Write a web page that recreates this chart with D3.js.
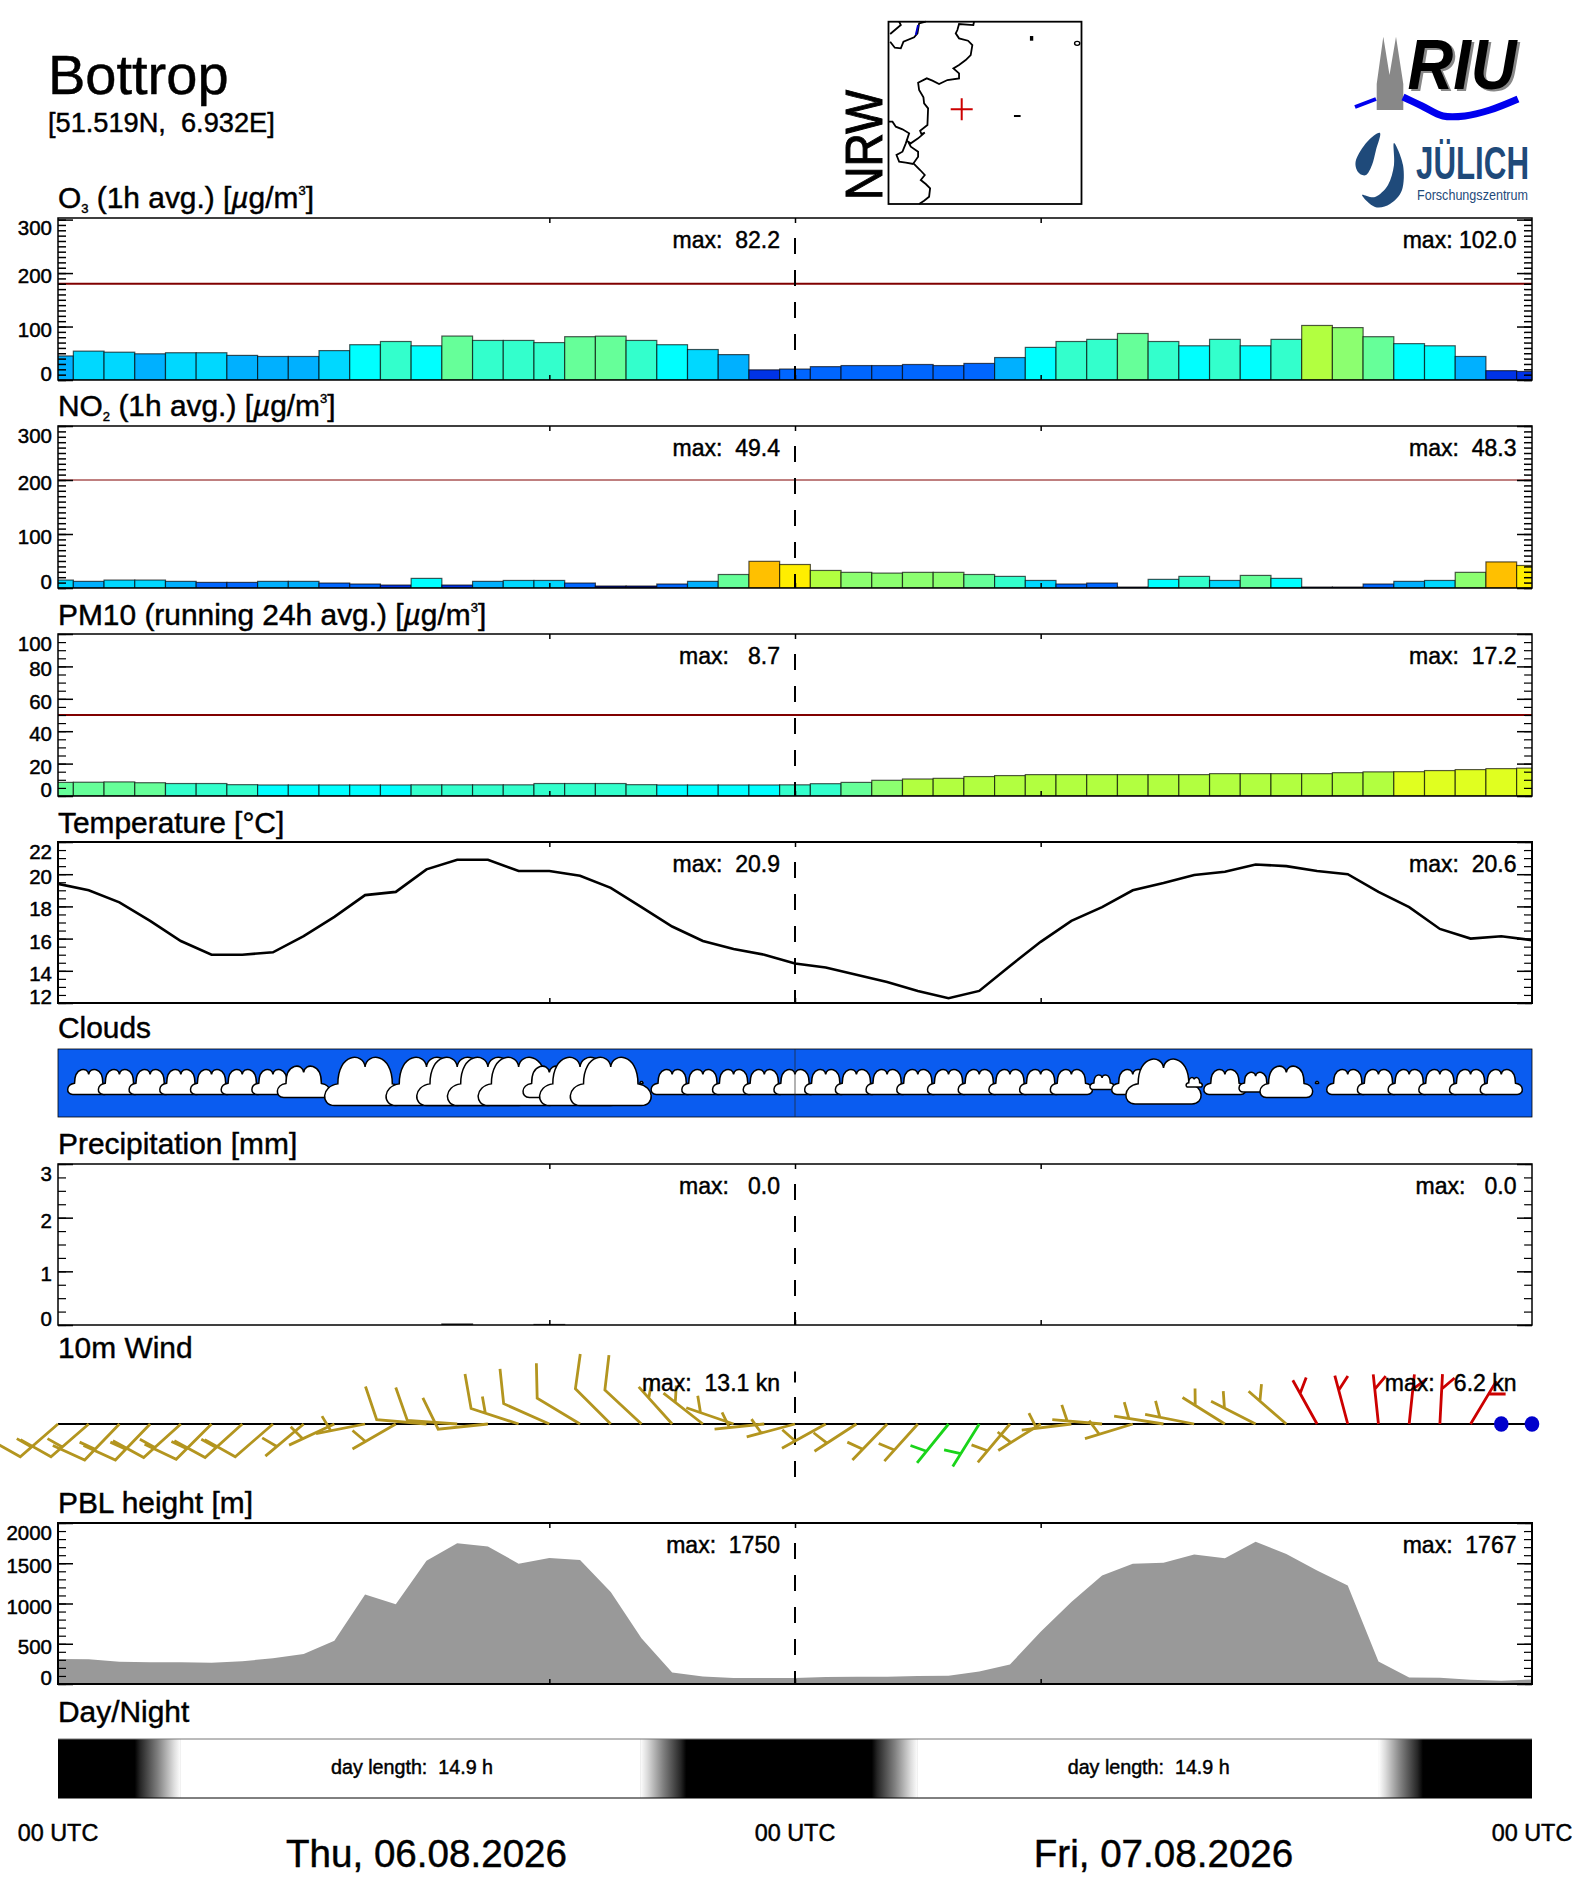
<!DOCTYPE html>
<html>
<head>
<meta charset="utf-8">
<title>Bottrop</title>
<script src="https://cdn.jsdelivr.net/npm/d3@7"></script>
<style>
  body { margin: 0; background: #fff; }
  text { font-family: "Liberation Sans", Arial, sans-serif; fill: #000; white-space: pre; }
  .tick text { display: none; }
</style>
</head>
<body>
<svg id="chart" width="1572" height="1889"></svg>
<script>
////////////////////////////////////////////////////////
//////// Hourly values, 00 UTC Thu to 00 UTC Sat
////////////////////////////////////////////////////////
var hours = d3.range(0, 49);

var o3Values = [45, 54, 52, 49, 51, 51, 46, 44, 44, 55, 66, 72, 64, 82.2, 74, 74, 70, 81, 82, 74, 66, 57, 47.5, 19, 20.5,
    25, 27, 27, 29, 27, 31, 42, 61, 72, 76, 87, 72, 64, 76, 64, 76, 102, 98, 81, 68, 64, 44, 17.5, 16];
var no2Values = [14.7, 12.3, 14.7, 14.7, 12.3, 10.4, 10.4, 12.3, 12.3, 9.2, 7.4, 5.5, 17.8, 5.5, 12.3, 14, 14, 9.2, 3.7, 3.7, 7.4, 12.3, 25, 49.4, 43.5,
    32.5, 29, 27.6, 29, 29, 25, 21.5, 14, 7.4, 9.2, 1.8, 16, 21.5, 14, 23.3, 17.8, 1.8, 1.8, 7.4, 12.3, 14, 29, 48.3, 41.7];
var pm10Values = [8.4, 8.5, 8.7, 8.2, 7.7, 7.7, 7, 6.8, 6.8, 6.8, 6.8, 6.8, 6.9, 6.9, 6.9, 6.9, 7.7, 7.7, 7.7, 7, 6.8, 6.8, 6.8, 6.8, 6.9,
    7.6, 8.4, 9.7, 10.5, 10.9, 12, 12.6, 13.2, 13.2, 13.2, 13.2, 13.2, 13.2, 13.8, 13.8, 13.8, 13.8, 14.4, 14.9, 15, 15.7, 16.3, 16.9, 17.2];
var tempValues = [19.4, 19, 18.25, 17.1, 15.85, 15, 15, 15.15, 16.15, 17.35, 18.7, 18.9, 20.3, 20.9, 20.9, 20.2, 20.2, 19.9, 19.15, 17.95, 16.75, 15.85, 15.35, 15, 14.45,
    14.2, 13.75, 13.3, 12.75, 12.3, 12.75, 14.3, 15.8, 17.1, 17.95, 19, 19.45, 19.95, 20.15, 20.6, 20.5, 20.2, 20, 18.9, 17.95, 16.6, 16, 16.15, 15.9];
var cloudCover = [0, 52, 52, 52, 52, 52, 52, 52, 65, 0, 100, 0, 100, 100, 100, 100, 65, 100, 100, 4, 52, 52, 52, 52, 52,
    52, 52, 52, 52, 52, 52, 52, 52, 52, 30, 52, 93, 20, 52, 41, 65, 4, 52, 52, 52, 52, 52, 52, 0];
var precipValues = [0, 0, 0, 0, 0, 0, 0, 0, 0, 0, 0, 0, 0, 0.02, 0, 0, 0.01, 0, 0, 0, 0, 0, 0, 0, 0,
    0, 0, 0, 0, 0, 0, 0, 0, 0, 0, 0, 0, 0, 0, 0, 0, 0, 0, 0, 0, 0, 0, 0, 0];
var windDir = [229, 229, 224, 224, 228, 225, 228, 229, 230, 245, 259, 240, 275, 274, 264, 288, 294, 301, 315, 313, 318, 308, 289, 264, 255,
    241, 237, 224, 222, 219, 212, 220, 238, 263, 275, 253, 279, 281, 302, 297, 311, 331, 345, 354, 6, 3, 31, 0, 0];
var windSpeed = [13, 13, 13, 13.1, 13, 13, 13, 11, 7, 6, 6, 7, 8, 8, 9, 12.6, 11, 11, 10, 9, 7, 7, 6, 7, 7,
    7, 6, 6, 6, 5, 5, 6, 5, 6, 5, 5, 6, 6, 6, 6, 6, 5, 5, 5, 6.2, 6, 5, 0, 0];
var pblValues = [312, 308, 275, 271, 271, 263, 283, 320, 374, 538, 1113, 990, 1532, 1750, 1709, 1495, 1565, 1540, 1142, 567, 144, 94, 74, 74, 74,
    86, 90, 90, 99, 103, 156, 242, 649, 1018, 1347, 1495, 1507, 1610, 1561, 1767, 1614, 1409, 1224, 279, 82, 78, 53, 41, 57];

// dawn start, dawn end, dusk start, dusk end (hours since start)
var twilightDay1 = [2.5, 4, 18.96, 20.46];
var twilightDay2 = [26.5, 28, 43, 44.45];

var maxLabels = {
    o3: ["82.2", "102.0"], no2: ["49.4", "48.3"], pm10: ["8.7", "17.2"], temp: ["20.9", "20.6"],
    precip: ["0.0", "0.0"], wind: ["13.1 kn", "6.2 kn"], pbl: ["1750", "1767"]
};
var dayLengths = ["14.9", "14.9"];
var dayLabels = ["Thu, 06.08.2026", "Fri, 07.08.2026"];

// Colour bands, same ramp for all the gases, band limits differ
var ramp = ["#00128c", "#0033e6", "#0066ff", "#00b0ff", "#00d8ff", "#00ffff", "#33ffcc", "#66ff99", "#8cff70", "#b2ff40", "#e0ff20", "#ffee00", "#ffc000"];
var o3Bands = [5, 20, 40, 50, 60, 70, 80, 90, 100, 120, 140, 170];
var no2Bands = [4, 7, 11, 13, 16, 21, 23, 27, 31, 38, 41, 47];
var pm10Bands = [1, 2, 3, 4, 5, 6.85, 8, 9.5, 10.4, 15, 20, 25];

// Map outlines in map units
var mapRhine = [[430, 35], [428, 45], [385, 42], [380, 60], [375, 70], [385, 85], [412, 92], [425, 105], [420, 135], [405, 150], [385, 165], [368, 175], [385, 190], [385, 205], [350, 210], [325, 222], [305, 212], [288, 205], [262, 218], [265, 240], [278, 262], [280, 280], [292, 295], [290, 345], [268, 362], [272, 372], [282, 368], [262, 385], [240, 400], [232, 395], [240, 410], [262, 425], [262, 440], [248, 460], [268, 480], [282, 495], [270, 510], [285, 522], [298, 535], [295, 560], [280, 572], [265, 582]];
var mapSouth = [[173, 335], [185, 335], [195, 350], [215, 358], [235, 370], [225, 400], [215, 425], [197, 435], [205, 455], [225, 458], [248, 462]];
var mapNorthA = [[205, 35], [210, 45], [178, 72]];
var mapNorthB = [[178, 95], [192, 113], [210, 115], [218, 95], [250, 82], [260, 70], [265, 40], [285, 35]];
var mapLake = [[262, 45], [255, 75]];
var mapSpecks = [[603, 85, 10, 14], [560, 318, 20, 6]];
var mapRing = [740, 100];
var mapSite = [393, 298];

///////////////////////////////////////////////////////////////////////////////
// Frame of the whole sheet
var svg = d3.select("#chart");
var plotLeft = 58, plotRight = 1532;

var x = d3.scaleLinear().domain([0, 48]).range([plotLeft, plotRight]);
var defs = svg.append("defs");

var addText = function (px, py, str, size, anchor) {
    return svg.append("text").attr("x", px).attr("y", py).attr("font-size", size)
        .attr("text-anchor", anchor || "start").attr("stroke", "#000").attr("stroke-width", 0.45).text(str);
};

// Panel title, parts are [text, mode] with mode sub, sup or mu
var addTitle = function (py, parts) {
    var t = svg.append("text").attr("x", 58).attr("y", py).attr("font-size", 29.9)
        .attr("stroke", "#000").attr("stroke-width", 0.45);
    parts.forEach(function (p) {
        var span = t.append("tspan").text(p[0]);
        if (p[1] === "sub") span.attr("font-size", 13).attr("dy", 5);
        if (p[1] === "sup") span.attr("font-size", 13).attr("dy", -13);
        if (p[1] === "mu") span.attr("font-style", "italic");
        if (p[2]) span.attr("dy", p[2]);
    });
};

// Outline, ticks, tick labels, the 00 UTC dashes and the two max labels
var addPanel = function (opt) {
    var y = d3.scaleLinear().domain(opt.domain).range([opt.bottom, opt.top]);
    var g = svg.append("g");

    var clipId = "clip" + opt.top;
    defs.append("clipPath").attr("id", clipId).append("rect")
        .attr("x", plotLeft).attr("y", opt.top).attr("width", plotRight - plotLeft).attr("height", opt.bottom - opt.top);

    var marks = g.append("g").attr("clip-path", "url(#" + clipId + ")");
    opt.draw(marks, y);

    if (opt.limit !== undefined) {
        g.append("line").attr("x1", plotLeft).attr("x2", plotRight)
            .attr("y1", y(opt.limit)).attr("y2", y(opt.limit))
            .attr("stroke", "#800000").attr("stroke-width", opt.limitWidth);
    }

    g.append("line").attr("x1", x(24)).attr("x2", x(24)).attr("y1", opt.top + 20).attr("y2", opt.bottom)
        .attr("stroke", "#000").attr("stroke-width", 2).attr("stroke-dasharray", "16 16");

    g.append("rect").attr("x", plotLeft).attr("y", opt.top).attr("width", plotRight - plotLeft).attr("height", opt.bottom - opt.top)
        .attr("fill", "none").attr("stroke", "#000").attr("stroke-width", opt.frame || 1.5);

    var styleAxis = function (sel, w) {
        sel.select(".domain").remove();
        sel.selectAll("line").attr("stroke", "#000").attr("stroke-width", w);
    };
    var axes = [
        [d3.axisLeft(y), plotLeft],
        [d3.axisRight(y), plotRight]
    ];
    axes.forEach(function (a) {
        g.append("g").attr("transform", "translate(" + a[1] + ",0)")
            .call(a[0].tickValues(opt.minor).tickSize(-8).tickFormat("")).call(styleAxis, opt.minorWidth || 1.5);
        g.append("g").attr("transform", "translate(" + a[1] + ",0)")
            .call(a[0].tickValues(opt.major).tickSize(-15).tickFormat("")).call(styleAxis, 1.5);
    });
    g.append("g").attr("transform", "translate(0," + opt.top + ")")
        .call(d3.axisTop(x).tickValues([16, 24, 32]).tickSize(-5).tickFormat("")).call(styleAxis, 1.5);
    g.append("g").attr("transform", "translate(0," + opt.bottom + ")")
        .call(d3.axisBottom(x).tickValues([16, 24, 32]).tickSize(-5).tickFormat("")).call(styleAxis, 1.5);

    // labels sit a little under their tick, and stay inside the panel height
    opt.labels.forEach(function (v) {
        var cy = Math.min(Math.max(y(v) + 3, opt.top + 10), opt.bottom - 6);
        addText(52, cy + 7, String(v), 20.5, "end");
    });

    addMax(opt.top + 30, opt.max);
    return y;
};

var addMax = function (py, vals) {
    addText(780, py, "max: " + vals[0].padStart(vals[0].indexOf("kn") > 0 ? 8 : 5), 23, "end");
    addText(1516.5, py, "max: " + vals[1].padStart(vals[1].indexOf("kn") > 0 ? 8 : 5), 23, "end");
};

var drawBars = function (values, colour) {
    return function (marks, y) {
        marks.selectAll("rect").data(hours).enter().append("rect")
            .attr("x", function (h) { return x(h - 0.5); })
            .attr("width", function (h) { return x(h + 0.5) - x(h - 0.5); })
            .attr("y", function (h) { return y(values[h]); })
            .attr("height", function (h) { return y(0) - y(values[h]); })
            .attr("fill", function (h) { return colour(values[h]); })
            .attr("stroke", "#000").attr("stroke-opacity", 0.65).attr("stroke-width", 1.2);
    };
};

////////////////////////////////////////////////////////
//////// Header
////////////////////////////////////////////////////////
addText(48, 94, "Bottrop", 56);
addText(48, 132, "[51.519N,  6.932E]", 27.2);

// Map
var mapX = d3.scaleLinear().domain([173, 753]).range([888.5, 1081.5]);
var mapY = d3.scaleLinear().domain([35, 582]).range([21.7, 204]);
var mapLine = d3.line().x(function (d) { return mapX(d[0]); }).y(function (d) { return mapY(d[1]); });

[mapRhine, mapSouth, mapNorthA, mapNorthB].forEach(function (pts) {
    svg.append("path").attr("d", mapLine(pts)).attr("fill", "none").attr("stroke", "#000").attr("stroke-width", 1.8);
});
svg.append("path").attr("d", mapLine(mapLake)).attr("fill", "none").attr("stroke", "#0000cc").attr("stroke-width", 2);
svg.selectAll("rect.speck").data(mapSpecks).enter().append("rect").attr("class", "speck")
    .attr("x", function (d) { return mapX(d[0] - d[2] / 2); })
    .attr("y", function (d) { return mapY(d[1] - d[3] / 2); })
    .attr("width", function (d) { return mapX(d[0] + d[2] / 2) - mapX(d[0] - d[2] / 2); })
    .attr("height", function (d) { return mapY(d[1] + d[3] / 2) - mapY(d[1] - d[3] / 2); })
    .attr("fill", "#000");
svg.append("ellipse").attr("cx", mapX(mapRing[0])).attr("cy", mapY(mapRing[1])).attr("rx", 2.6).attr("ry", 2)
    .attr("fill", "none").attr("stroke", "#000").attr("stroke-width", 1.4);
svg.append("rect").attr("x", mapX(173)).attr("y", mapY(35)).attr("width", mapX(753) - mapX(173)).attr("height", mapY(582) - mapY(35))
    .attr("fill", "none").attr("stroke", "#000").attr("stroke-width", 1.8);
svg.append("path").attr("d", "M" + (mapX(mapSite[0]) - 11) + "," + mapY(mapSite[1]) + "h22M" + mapX(mapSite[0]) + "," + (mapY(mapSite[1]) - 11) + "v22")
    .attr("stroke", "#cc0000").attr("stroke-width", 2).attr("fill", "none");

svg.append("text").attr("transform", "translate(881.5,200) rotate(-90)").attr("font-size", 51)
    .attr("stroke", "#000").attr("stroke-width", 1)
    .attr("textLength", 110).attr("lengthAdjust", "spacingAndGlyphs").text("NRW");

// RIU logo
var riuTower = [[1376.7, 110], [1376.7, 84], [1383.3, 36.7], [1389.5, 75], [1396, 36.7], [1403.3, 84], [1403.3, 110]];
svg.append("polygon").attr("points", riuTower.join(" ")).attr("fill", "#888888");
var riuRiver = [[1355, 107], [1376, 99], [1403, 97], [1422, 106], [1443, 116], [1465, 116], [1490, 110], [1518, 99]];
svg.append("path").attr("d", d3.line().curve(d3.curveCatmullRom)(riuRiver.slice(2)))
    .attr("fill", "none").attr("stroke", "#0000ee").attr("stroke-width", 7);
svg.append("path").attr("d", d3.line()(riuRiver.slice(0, 2))).attr("fill", "none").attr("stroke", "#0000ee").attr("stroke-width", 4);
[["#888888", 1410, 91], ["#000", 1407.5, 88.5]].forEach(function (s) {
    svg.append("text").attr("x", s[1]).attr("y", s[2]).attr("font-size", 71).attr("font-weight", "bold").attr("font-style", "italic")
        .attr("textLength", 109).attr("lengthAdjust", "spacingAndGlyphs").style("fill", s[0]).text("RIU");
});

// Juelich logo
var dropLeft = [[1380, 133], [1367, 142], [1356, 160], [1358, 172], [1366, 175], [1372, 165], [1376, 150]];
var dropRight = [[1394, 143], [1403, 165], [1402, 190], [1390, 204], [1375, 207], [1362, 195], [1375, 197], [1388, 185], [1394, 165]];
[dropLeft, dropRight].forEach(function (pts) {
    svg.append("path").attr("d", d3.line().curve(d3.curveCardinalClosed)(pts)).attr("fill", "#1f4a7a");
});
svg.append("text").attr("x", 1416).attr("y", 179).attr("font-size", 46).attr("font-weight", "bold")
    .attr("textLength", 113).attr("lengthAdjust", "spacingAndGlyphs").style("fill", "#1f4a7a").text("JÜLICH");
svg.append("text").attr("x", 1417).attr("y", 200).attr("font-size", 14)
    .attr("textLength", 111).attr("lengthAdjust", "spacingAndGlyphs").style("fill", "#1f4a7a").text("Forschungszentrum");

////////////////////////////////////////////////////////
//////// Panels
////////////////////////////////////////////////////////
addTitle(208, [["O"], ["3", "sub"], [" (1h avg.) [", null, -5], ["µ", "mu"], ["g/m"], ["3", "sup"], ["]", null, 13]]);
addPanel({
    top: 218, bottom: 380, domain: [0, 303], limit: 180, limitWidth: 2,
    major: [0, 100, 200, 300], minor: d3.range(0, 301, 10), labels: [0, 100, 200, 300], max: maxLabels.o3,
    draw: drawBars(o3Values, d3.scaleThreshold().domain(o3Bands).range(ramp))
});

addTitle(416, [["NO"], ["2", "sub"], [" (1h avg.) [", null, -5], ["µ", "mu"], ["g/m"], ["3", "sup"], ["]", null, 13]]);
addPanel({
    top: 426, bottom: 588, domain: [0, 300], limit: 200, limitWidth: 1,
    major: [0, 100, 200, 300], minor: d3.range(0, 301, 10), labels: [0, 100, 200, 300], max: maxLabels.no2,
    draw: drawBars(no2Values, d3.scaleThreshold().domain(no2Bands).range(ramp))
});

addTitle(625, [["PM10 (running 24h avg.) ["], ["µ", "mu"], ["g/m"], ["3", "sup"], ["]", null, 13]]);
addPanel({
    top: 634, bottom: 796, domain: [0, 100], limit: 50, limitWidth: 2, minorWidth: 1.2,
    major: [0, 20, 40, 60, 80, 100], minor: d3.range(0, 101, 5), labels: [0, 20, 40, 60, 80, 100], max: maxLabels.pm10,
    draw: drawBars(pm10Values, d3.scaleThreshold().domain(pm10Bands).range(ramp))
});

addTitle(833, [["Temperature [°C]"]]);
addPanel({
    top: 842, bottom: 1003, domain: [12, 22], frame: 2, minorWidth: 1.2,
    major: [12, 14, 16, 18, 20, 22], minor: d3.range(12, 22.1, 0.5), labels: [12, 14, 16, 18, 20, 22], max: maxLabels.temp,
    draw: function (marks, y) {
        var line = d3.line().x(function (h) { return x(h); }).y(function (h) { return y(tempValues[h]); });
        marks.append("path").attr("d", line(hours)).attr("fill", "none").attr("stroke", "#000").attr("stroke-width", 2.6);
    }
});

// Clouds
addTitle(1037.5, [["Clouds"]]);
var cloudTop = 1049, cloudBottom = 1117, cloudMid = 1082.5;
svg.append("rect").attr("x", plotLeft).attr("y", cloudTop).attr("width", plotRight - plotLeft).attr("height", cloudBottom - cloudTop)
    .attr("fill", "#0a5cf0").attr("stroke", "#000").attr("stroke-width", 0.8);

var cloudHeight = d3.scaleLinear().domain([0, 100]).range([0, 46]);
var cloudShape = function (h) {
    var cx = x(h), H = cloudHeight(cloudCover[h]), W = H * 1.85, p = d3.path();
    var px = function (u) { return cx + u * W; };
    var py = function (v) { return cloudMid + v * H; };
    p.moveTo(px(-0.36), py(0.5));
    p.bezierCurveTo(px(-0.52), py(0.5), px(-0.52), py(0.08), px(-0.32), py(0.03));
    p.bezierCurveTo(px(-0.32), py(-0.66), px(-0.02), py(-0.66), px(0), py(-0.34));
    p.bezierCurveTo(px(0.02), py(-0.66), px(0.32), py(-0.66), px(0.32), py(0.03));
    p.bezierCurveTo(px(0.52), py(0.08), px(0.52), py(0.5), px(0.36), py(0.5));
    p.closePath();
    return p.toString();
};
svg.selectAll("path.cloud").data(hours.filter(function (h) { return cloudCover[h] > 0; })).enter()
    .append("path").attr("class", "cloud").attr("d", cloudShape)
    .attr("fill", "#fff").attr("stroke", "#000").attr("stroke-width", 1.5);
svg.append("line").attr("x1", x(24)).attr("x2", x(24)).attr("y1", cloudTop).attr("y2", cloudBottom).attr("stroke", "#222").attr("stroke-width", 0.7);

addTitle(1154, [["Precipitation [mm]"]]);
addPanel({
    top: 1164, bottom: 1325, domain: [0, 3], minorWidth: 1.2,
    major: [0, 1, 2, 3], minor: d3.range(0, 3.01, 0.25), labels: [0, 1, 2, 3], max: maxLabels.precip,
    draw: drawBars(precipValues, function () { return "#555"; })
});

// Wind barbs
addTitle(1358, [["10m Wind"]]);
var windY = 1424, shaftLength = 50, fullBarb = 35, halfBarb = 17, halfBack = 15;
var windColour = d3.scaleThreshold().domain([60, 180, 220, 320]).range(["#cc0000", "#b3951f", "#1ad41a", "#b3951f", "#cc0000"]);
// the feather opens wider on the low side of the line, the plot is not square
var featherTurn = d3.scaleLinear().domain([180, 264, 315, 360, 390]).range([71, 70, 53, 45, 59]).clamp(true);
var rad = function (deg) { return deg * Math.PI / 180; };

svg.append("line").attr("x1", plotLeft).attr("x2", plotRight).attr("y1", windY).attr("y2", windY).attr("stroke", "#000").attr("stroke-width", 2);
svg.append("line").attr("x1", x(24)).attr("x2", x(24)).attr("y1", 1371.5).attr("y2", 1478)
    .attr("stroke", "#000").attr("stroke-width", 2).attr("stroke-dasharray", "11 14.5 16 16 16 16 16");

var barbPath = function (h) {
    var dir = windDir[h] < 90 ? windDir[h] + 360 : windDir[h];
    var d = rad(dir), f = rad(dir + featherTurn(dir));
    var knots = Math.round(windSpeed[h] / 5) * 5;
    var tipX = x(h) + shaftLength * Math.sin(d), tipY = windY - shaftLength * Math.cos(d);
    var path = d3.path();
    path.moveTo(x(h), windY);
    path.lineTo(tipX, tipY);
    if (knots >= 10) {
        path.lineTo(tipX + fullBarb * Math.sin(f), tipY - fullBarb * Math.cos(f));
    }
    if (knots % 10 === 5) {
        var hx = tipX - halfBack * Math.sin(d), hy = tipY + halfBack * Math.cos(d);
        path.moveTo(hx, hy);
        path.lineTo(hx + halfBarb * Math.sin(f), hy - halfBarb * Math.cos(f));
    }
    return path.toString();
};
svg.selectAll("path.barb").data(hours.filter(function (h) { return windSpeed[h] > 0; })).enter()
    .append("path").attr("class", "barb").attr("d", barbPath)
    .attr("fill", "none").attr("stroke-width", 2.8)
    .attr("stroke", function (h) { return windColour(windDir[h]); });
svg.selectAll("ellipse.calm").data(hours.filter(function (h) { return windSpeed[h] === 0; })).enter()
    .append("ellipse").attr("class", "calm").attr("cx", function (h) { return x(h); }).attr("cy", windY)
    .attr("rx", 7.3).attr("ry", 7.8).attr("fill", "#0000cc");
addMax(1390.5, maxLabels.wind);

addTitle(1512.5, [["PBL height [m]"]]);
addPanel({
    top: 1523, bottom: 1684, domain: [0, 2000], frame: 2, minorWidth: 1.2,
    major: [0, 500, 1000, 1500, 2000], minor: d3.range(0, 2001, 100), labels: [0, 500, 1000, 1500, 2000], max: maxLabels.pbl,
    draw: function (marks, y) {
        var area = d3.area().x(function (h) { return x(h); }).y0(y(0)).y1(function (h) { return y(pblValues[h]); });
        marks.append("path").attr("d", area(hours)).attr("fill", "#999999");
    }
});

////////////////////////////////////////////////////////
//////// Day and night strip
////////////////////////////////////////////////////////
addTitle(1721.5, [["Day/Night"]]);
var stripTop = 1739, stripBottom = 1798;
svg.append("rect").attr("x", plotLeft).attr("y", stripTop).attr("width", plotRight - plotLeft).attr("height", stripBottom - stripTop).attr("fill", "#000");

var addGradient = function (id, dark, light, flip) {
    var grad = defs.append("linearGradient").attr("id", id);
    [[0, dark], [0.12, "#262626"], [0.5, "#808080"], [0.85, "#dddddd"], [1, light]].forEach(function (s) {
        grad.append("stop").attr("offset", flip ? 1 - s[0] : s[0]).attr("stop-color", s[1]);
    });
};
addGradient("dawn", "#000", "#fff", false);
defs.append("linearGradient").attr("id", "dusk").attr("href", "#dawn").attr("x1", 1).attr("x2", 0);

var addDay = function (t) {
    var strip = function (a, b, fill) {
        svg.append("rect").attr("x", x(a)).attr("width", x(b) - x(a)).attr("y", stripTop).attr("height", stripBottom - stripTop).attr("fill", fill);
    };
    strip(t[0], t[1], "url(#dawn)");
    strip(t[2], t[3], "url(#dusk)");
    // white laid last and a bit wider, so no seam shows against the fades
    svg.append("rect").attr("x", x(t[1]) - 0.5).attr("width", x(t[2]) - x(t[1]) + 1).attr("y", stripTop).attr("height", stripBottom - stripTop).attr("fill", "#fff");
};
addDay(twilightDay1);
addDay(twilightDay2);
svg.append("line").attr("x1", plotLeft).attr("x2", plotRight).attr("y1", stripTop).attr("y2", stripTop).attr("stroke", "#777").attr("stroke-width", 1);
svg.append("line").attr("x1", plotLeft).attr("x2", plotRight).attr("y1", stripBottom).attr("y2", stripBottom).attr("stroke", "#000").attr("stroke-width", 1);

addText(412, 1774, "day length:  " + dayLengths[0] + " h", 19.7, "middle");
addText(1148.7, 1774, "day length:  " + dayLengths[1] + " h", 19.7, "middle");

// Bottom labels
[0, 24, 48].forEach(function (h) {
    addText(x(h), 1840.5, "00 UTC", 23.4, "middle");
});
addText(x(12), 1867, dayLabels[0], 38.6, "middle");
addText(x(36), 1867, dayLabels[1], 38.6, "middle");
</script>
</body>
</html>
